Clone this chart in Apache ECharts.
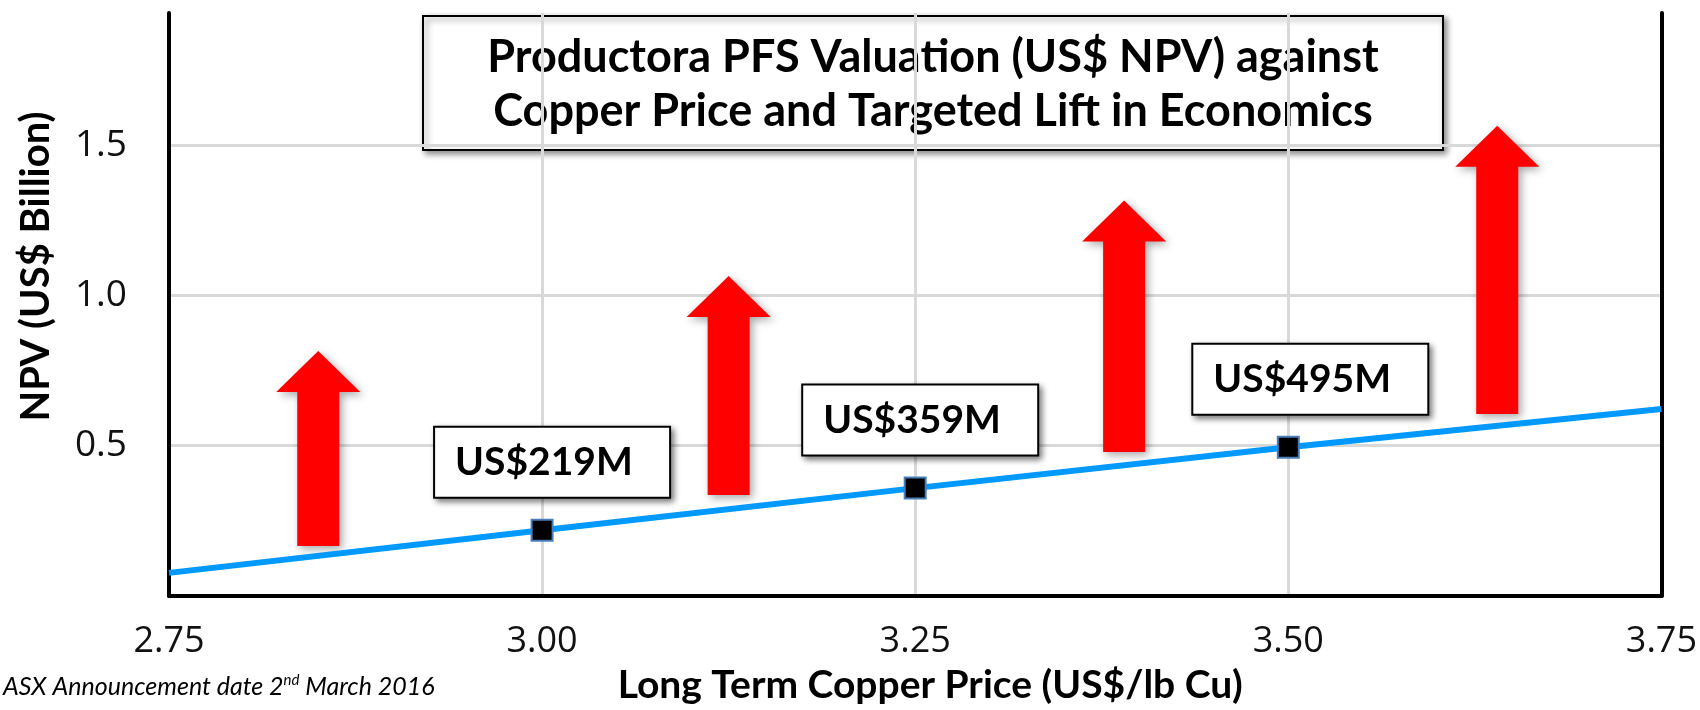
<!DOCTYPE html>
<html>
<head>
<meta charset="utf-8">
<script src="https://cdn.jsdelivr.net/npm/echarts@6/dist/echarts.min.js"></script>
<style>
  html, body { margin: 0; padding: 0; background: #fff; }
  #chart { width: 1700px; height: 710px; }
</style>
</head>
<body>
<div id="chart"></div>
<script>
// copper price (US$/lb) vs project NPV (US$ billion)
const priceTicks = [2.75, 3.00, 3.25, 3.50, 3.75];
const npvLine = [0.077, 0.219, 0.359, 0.495, 0.622];
const npvLabels = ['', 'US$219M', 'US$359M', 'US$495M', ''];

// targeted lift arrows: price, npv at base, npv at tip
const arrowPrice = [2.85, 3.125, 3.39, 3.64];
const arrowFrom = [0.166, 0.336, 0.479, 0.606];
const arrowTo = [0.815, 1.065, 1.316, 1.565];

const titleLines = ['Productora PFS Valuation (US$ NPV) against', 'Copper Price and Targeted Lift in Economics'];

const boldFont = 'Lato';
const tickFont = 'Open Sans';

const chart = echarts.init(document.getElementById('chart'));

// left edge of each label box, relative to its point (boxes are left aligned)
const labelShift = [0, -107, -112, -95, 0];

const lineData = priceTicks.map((p, i) => {
  const hasMark = npvLabels[i] !== '';
  return {
    value: [p, npvLine[i]],
    symbol: hasMark ? 'rect' : 'none',
    label: {
      show: hasMark,
      formatter: npvLabels[i],
      offset: [labelShift[i], 0]
    }
  };
});

const arrowData = arrowPrice.map((p, i) => [p, arrowFrom[i], arrowTo[i]]);

function renderArrow(params, api) {
  const base = api.coord([api.value(0), api.value(1)]);
  const tip = api.coord([api.value(0), api.value(2)]);
  const x = base[0];
  const shaft = 21, head = 42, headH = 41;
  const neck = tip[1] + headH;
  return {
    type: 'polygon',
    shape: {
      points: [
        [x - shaft, base[1]], [x - shaft, neck], [x - head, neck],
        [x, tip[1]],
        [x + head, neck], [x + shaft, neck], [x + shaft, base[1]]
      ]
    },
    style: {
      fill: '#ff0000',
      shadowBlur: 8,
      shadowColor: 'rgba(0,0,0,0.35)',
      shadowOffsetX: 3,
      shadowOffsetY: 3
    }
  };
}

const gridGrey = '#d9d9d9';

chart.setOption({
  backgroundColor: '#fff',
  animation: false,
  grid: { left: 169, right: 31, top: 13, bottom: 114, containLabel: false },
  xAxis: {
    type: 'value',
    min: 2.75,
    max: 3.75,
    interval: 0.25,
    name: 'Long Term Copper Price (US$/lb Cu)',
    nameLocation: 'middle',
    nameGap: 70,
    nameTextStyle: { fontFamily: boldFont, fontWeight: 'bold', fontSize: 39, color: '#000', padding: [0, 0, 0, 30] },
    axisLine: { show: true, onZero: false, lineStyle: { color: '#000', width: 4 } },
    axisTick: { show: false },
    axisLabel: {
      margin: 28,
      fontFamily: tickFont,
      fontSize: 36,
      color: '#111',
      formatter: v => v.toFixed(2)
    },
    splitLine: { show: true, lineStyle: { color: gridGrey, width: 3 } }
  },
  yAxis: [{
    type: 'value',
    min: 0,
    max: 1.94,
    interval: 0.5,
    name: 'NPV (US$ Billion)',
    nameLocation: 'middle',
    nameGap: 113,
    nameTextStyle: { fontFamily: boldFont, fontWeight: 'bold', fontSize: 40, color: '#000', padding: [0, 0, 0, 76] },
    axisLine: { show: true, lineStyle: { color: '#000', width: 4 } },
    axisTick: { show: false },
    axisLabel: {
      margin: 42,
      fontFamily: tickFont,
      fontSize: 37,
      color: '#111',
      formatter: v => (v > 0 && v < 1.9) ? v.toFixed(1) : ''
    },
    splitLine: {
      show: true,
      lineStyle: { color: [gridGrey, gridGrey, gridGrey, gridGrey, 'rgba(0,0,0,0)'], width: 3 }
    }
  }, {
    type: 'value',
    position: 'right',
    min: 0,
    max: 1.94,
    interval: 0.5,
    axisLine: { show: true, lineStyle: { color: '#000', width: 4 } },
    axisTick: { show: false },
    axisLabel: { show: false },
    splitLine: { show: false }
  }],
  series: [{
    type: 'custom',
    renderItem: renderArrow,
    data: arrowData,
    encode: { x: 0, y: [1, 2] },
    z: 3
  }, {
    type: 'line',
    data: lineData,
    symbolSize: 21,
    lineStyle: { color: '#0099ff', width: 6 },
    itemStyle: { color: '#000', borderColor: '#4a7ebb', borderWidth: 2 },
    label: {
      position: 'top',
      distance: 22,
      width: 194,
      align: 'left',
      padding: [16, 20],
      lineHeight: 37,
      fontFamily: boldFont,
      fontWeight: 'bold',
      fontSize: 39,
      color: '#000',
      backgroundColor: '#fff',
      borderColor: '#000',
      borderWidth: 2,
      shadowColor: 'rgba(0,0,0,0.45)',
      shadowBlur: 6,
      shadowOffsetX: 3,
      shadowOffsetY: 3
    },
    z: 4
  }],
  graphic: [{
    type: 'group',
    z: 10,
    children: [{
      type: 'rect',
      shape: { x: 423, y: 16, width: 1020, height: 134 },
      style: {
        fill: '#fff',
        stroke: '#000',
        lineWidth: 2,
        shadowColor: 'rgba(0,0,0,0.45)',
        shadowBlur: 6,
        shadowOffsetX: 3,
        shadowOffsetY: 3
      }
    }, {
      type: 'text',
      x: 933,
      y: 84,
      style: {
        text: titleLines.join('\n'),
        font: 'bold 45px ' + boldFont,
        fill: '#000',
        align: 'center',
        verticalAlign: 'middle',
        lineHeight: 54
      }
    }]
  }, {
    type: 'text',
    left: 3,
    top: 673,
    z: 10,
    style: {
      text: '{a|ASX Announcement date 2}{s|nd}{a| March 2016}',
      rich: {
        a: { fontFamily: boldFont, fontStyle: 'italic', fontSize: 25, fill: '#000' },
        s: { fontFamily: boldFont, fontStyle: 'italic', fontSize: 15, fill: '#000', padding: [0, 0, 12, 0] }
      }
    }
  }]
});
</script>
</body>
</html>
